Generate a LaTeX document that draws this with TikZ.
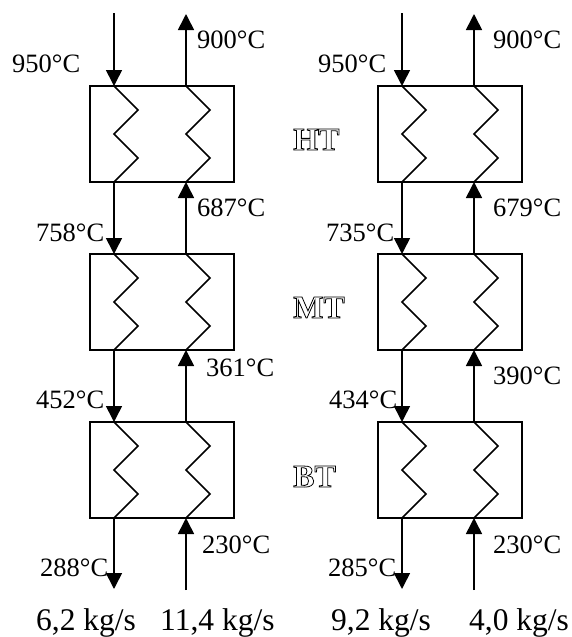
\documentclass[tikz,border=0pt]{standalone}
\usepackage{fontspec}
\setmainfont{Liberation Serif}
\usetikzlibrary{arrows.meta}
\newcommand{\outlined}[1]{\special{pdf:code 1 Tr 0.8 w}#1\special{pdf:code 0 Tr 1 w}}
\tikzset{
  x=1pt,y=-1pt,
  exchanger/.style={draw,line width=1.6pt,minimum width=144pt,minimum height=96pt,inner sep=0pt,outer sep=0pt},
  flow/.style={line width=1.6pt,-{Triangle[length=16pt,width=16pt]}},
  coil/.style={line width=1.5pt,line join=miter},
  temp/.style={anchor=base west,inner sep=0pt,font=\fontsize{26.5}{28}\selectfont},
  rate/.style={anchor=base west,inner sep=0pt,font=\fontsize{31.5}{33}\selectfont},
  stage/.style={anchor=base west,inner sep=0pt,font=\fontsize{32}{34}\selectfont\bfseries},
}
\begin{document}
\begin{tikzpicture}
\useasboundingbox (0,0) rectangle (572,637);
\foreach \c/\xc in {A/162,B/450}{
  \foreach \r/\yc in {1/134,2/302,3/470}{
    \node[exchanger] (\c\r) at (\xc,\yc) {};
    \foreach \s/\dx in {p/-48,q/24}{
      \coordinate (\c\r\s t) at ({\xc+\dx},{\yc-48});
      \coordinate (\c\r\s b) at ({\xc+\dx},{\yc+48});
      \draw[coil] (\c\r\s t) -- ++(24,24) -- ++(-24,24) -- ++(24,24) -- (\c\r\s b);
    }
  }
  \coordinate (\c ptop) at ({\xc-48},13);
  \coordinate (\c qtop) at ({\xc+24},14);
  \coordinate (\c pend) at ({\xc-48},589);
  \coordinate (\c qend) at ({\xc+24},590);
  \draw[flow] (\c ptop) -- (\c1pt);
  \draw[flow] (\c1qt) -- (\c qtop);
  \draw[flow] (\c1pb) -- (\c2pt);
  \draw[flow] (\c2qt) -- (\c1qb);
  \draw[flow] (\c2pb) -- (\c3pt);
  \draw[flow] (\c3qt) -- (\c2qb);
  \draw[flow] (\c3pb) -- (\c pend);
  \draw[flow] (\c qend) -- (\c3qb);
}
\node[temp] (t1) at (12,72) {950°C};
\node[temp] (t2) at (197,48) {900°C};
\node[temp] (t3) at (36,241) {758°C};
\node[temp] (t4) at (197,216) {687°C};
\node[temp] (t5) at (36,408) {452°C};
\node[temp] (t6) at (206,376) {361°C};
\node[temp] (t7) at (40,576) {288°C};
\node[temp] (t8) at (202,553) {230°C};
\node[temp] (u1) at (318,72) {950°C};
\node[temp] (u2) at (493,48) {900°C};
\node[temp] (u3) at (326,241) {735°C};
\node[temp] (u4) at (493,216) {679°C};
\node[temp] (u5) at (329,408) {434°C};
\node[temp] (u6) at (493,384) {390°C};
\node[temp] (u7) at (328,576) {285°C};
\node[temp] (u8) at (493,553) {230°C};
\node[stage] (s1) at (293,150) {\outlined{HT}};
\node[stage] (s2) at (293,318) {\outlined{MT}};
\node[stage] (s3) at (293,487) {\outlined{BT}};
\node[rate] (r1) at (36,630) {6,2 kg/s};
\node[rate] (r2) at (160,630) {11,4 kg/s};
\node[rate] (r3) at (331,630) {9,2 kg/s};
\node[rate] (r4) at (469,630) {4,0 kg/s};
\end{tikzpicture}
\end{document}
